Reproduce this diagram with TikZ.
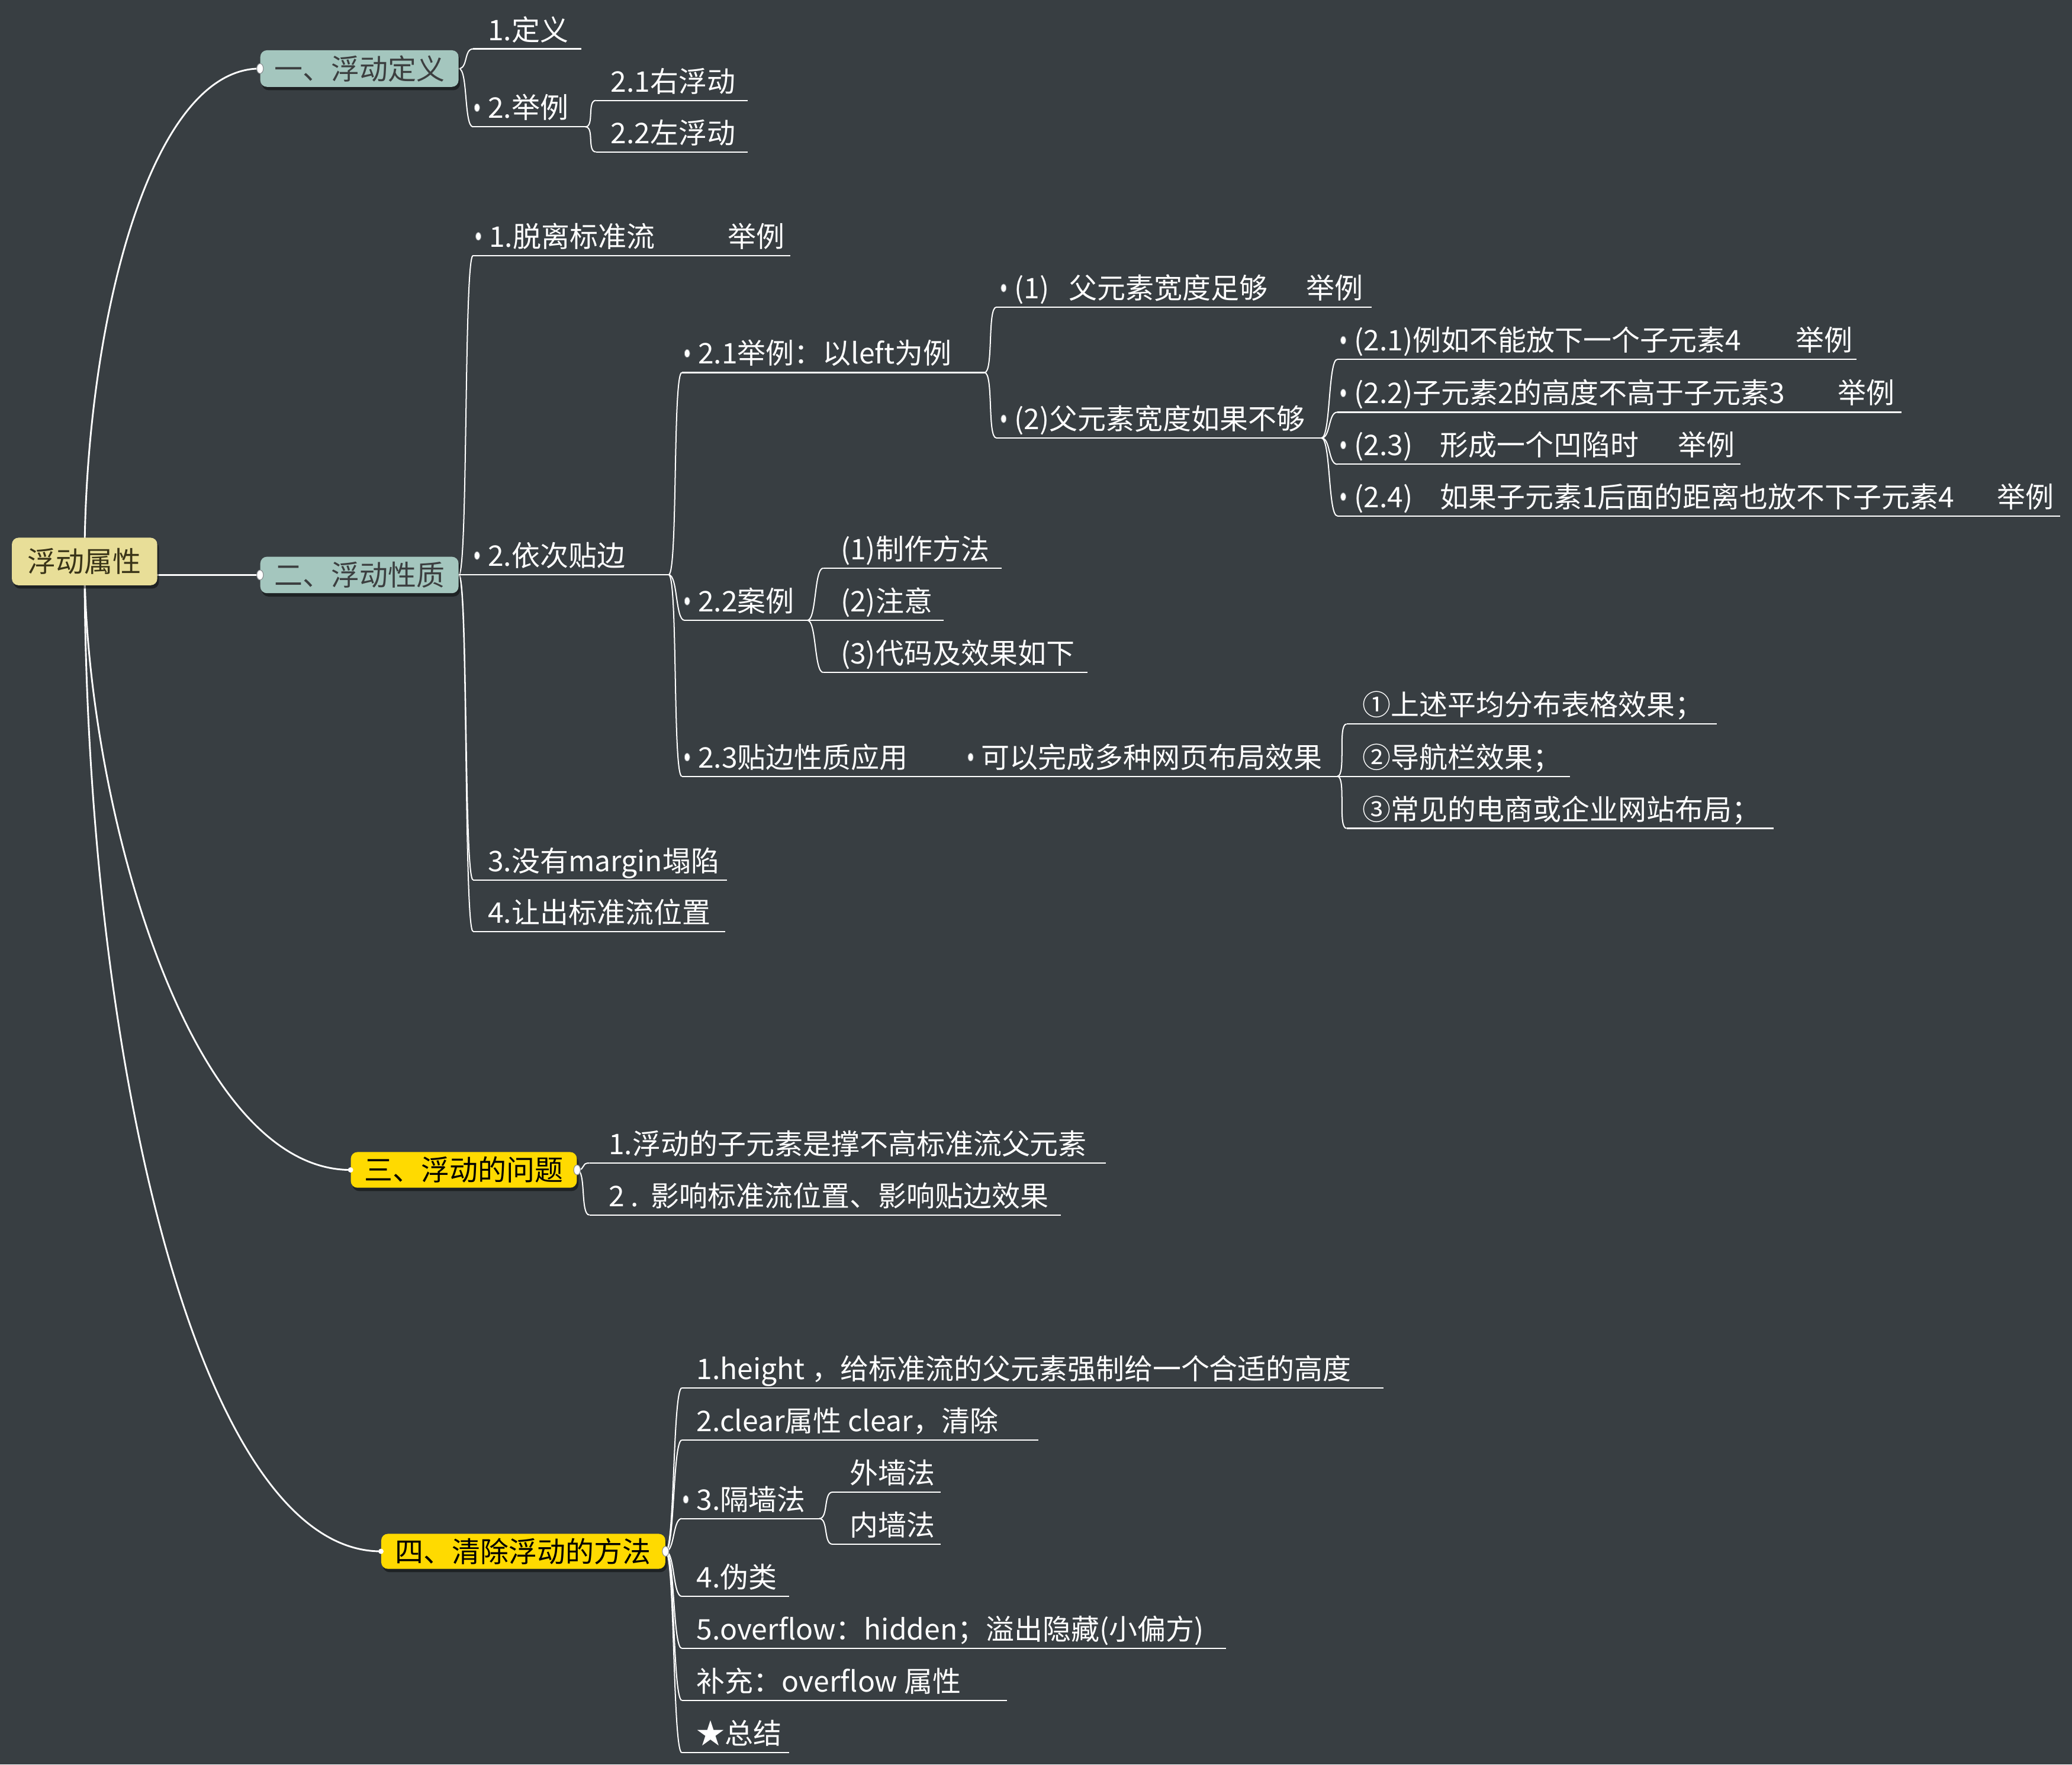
\documentclass[tikz,border=0pt]{standalone}
\usepackage{fontspec}
\setmainfont{Noto Sans CJK SC}
\usetikzlibrary{shapes.geometric,shadows}
\definecolor{bgc}{HTML}{383E42}
\definecolor{rootc}{HTML}{E8DE98}
\definecolor{roott}{HTML}{3A3418}
\definecolor{tealc}{HTML}{A4C6BE}
\definecolor{tealt}{HTML}{3C3F40}
\definecolor{yelc}{HTML}{FFDA00}
\definecolor{knobc}{HTML}{8A8F92}
\pgfdeclarelayer{back}
\pgfdeclarelayer{lines}
\pgfsetlayers{back,lines,main}
\newcommand\mmTopic[6]{%
  \coordinate (#1s) at (#2,#4);
  \coordinate (#1e) at (#3,#4);
  \node[tpt] (#1) at (#5,#4-6.5) {#6};
  \draw[ulin] (#1s) -- (#1e);}
\newcommand\mmTopicD[6]{%
  \mmTopic{#1}{#2}{#3}{#4}{#5}{#6}%
  \node[knob] (#1k) at (#5-8,#4-14.5) {};}
\newcommand\mmBr[2]{\draw[conn] (#1) .. controls +(7,0) and +(-7,0) .. (#2);}
\begin{document}
\begin{tikzpicture}[x=1pt,y=-1pt,
  tpt/.style={anchor=base west,inner sep=0pt,text=white,font=\fontsize{21.5}{24}\selectfont},
  boxn/.style={rounded corners=5pt,inner sep=0pt,font=\fontsize{21.5}{24}\selectfont,
    drop shadow={shadow xshift=1.2pt,shadow yshift=-2.5pt,opacity=0.45,fill=black}},
  ulin/.style={draw=white,line width=1pt},
  conn/.style={draw=white,line width=0.9pt},
  rootln/.style={draw=white,line width=1.3pt},
  knob/.style={ellipse,fill=white,draw=knobc,line width=0.4pt,minimum width=4pt,minimum height=6pt,inner sep=0pt},
  bknob/.style={ellipse,fill=white,draw=knobc,line width=0.5pt,minimum width=5pt,minimum height=7.5pt,inner sep=0pt},
  sdot/.style={circle,fill=white,minimum size=4pt,inner sep=0pt}]
\begin{pgfonlayer}{back}
\fill[bgc] (0,0) rectangle (1568,1335.5);
\end{pgfonlayer}
\useasboundingbox (0,0) rectangle (1568,1335.5);

% main boxes
\node[boxn,fill=rootc,text=roott,minimum width=110pt,minimum height=36pt] (root) at (64,425) {浮动属性};
\node[boxn,fill=tealc,text=tealt,minimum width=150pt,minimum height=27.7pt] (b1) at (272,51.9) {一、浮动定义};
\node[boxn,fill=tealc,text=tealt,minimum width=150pt,minimum height=27.6pt] (b2) at (272,435.2) {二、浮动性质};
\node[boxn,fill=yelc,text=black,minimum width=171pt,minimum height=27pt] (b3) at (351,885.5) {三、浮动的问题};
\node[boxn,fill=yelc,text=black,minimum width=215pt,minimum height=26.5pt] (b4) at (396,1174.2) {四、清除浮动的方法};
\node[bknob] (b1k) at (b1.west) {};
\node[bknob] (b2k) at (b2.west) {};
\node[sdot] (b3l) at (b3.west) {};
\node[bknob] (b3r) at (b3.east) {};
\node[sdot] (b4l) at (b4.west) {};
\node[bknob] (b4r) at (b4.east) {};

% branch one
\mmTopic{d1}{358}{440}{37}{369}{1.定义}
\mmTopicD{d2}{358}{443}{96}{369}{2.举例}
\mmTopic{d21}{451}{566}{76}{462}{2.1右浮动}
\mmTopic{d22}{451}{566}{115}{462}{2.2左浮动}

% branch two
\mmTopicD{e1}{358}{598}{193.4}{370}{\makebox[180.5pt][l]{1.脱离标准流}举例}
\mmTopicD{e2}{347}{506}{435}{369}{2.依次贴边}
\mmTopic{e3}{358}{550}{666}{369}{3.没有margin塌陷}
\mmTopic{e4}{358}{549}{705}{369}{4.让出标准流位置}
\mmTopicD{f1}{516}{745}{282}{528}{2.1举例：以left为例}
\mmTopicD{f2}{518}{611}{469.5}{528}{2.2案例}
\mmTopicD{f3}{516}{718}{587.6}{528}{2.3贴边性质应用}
\mmTopicD{g}{718}{1012}{587.6}{742.5}{可以完成多种网页布局效果}
\mmTopic{h1}{1019}{1299}{548}{1031}{①上述平均分布表格效果；}
\mmTopic{h2}{1012}{1188}{587.6}{1031}{②导航栏效果；}
\mmTopic{h3}{1019}{1342}{627}{1031}{③常见的电商或企业网站布局；}
\mmTopicD{i1}{754}{1038}{232.5}{767.5}{\makebox[41pt][l]{(1)}\makebox[180pt][l]{父元素宽度足够}举例}
\mmTopicD{i2}{754}{1000}{331.5}{767.5}{(2)父元素宽度如果不够}
\mmTopicD{j1}{1012}{1405}{272}{1024.5}{\makebox[334.5pt][l]{(2.1)例如不能放下一个子元素4}举例}
\mmTopicD{j2}{1012}{1439}{312}{1024.5}{\makebox[366pt][l]{(2.2)子元素2的高度不高于子元素3}举例}
\mmTopicD{j3}{1012}{1317}{351.4}{1024.5}{\makebox[65pt][l]{(2.3)}\makebox[180pt][l]{形成一个凹陷时}举例}
\mmTopicD{j4}{1012}{1559}{390.5}{1024.5}{\makebox[65pt][l]{(2.4)}\makebox[421.7pt][l]{如果子元素1后面的距离也放不下子元素4}举例}
\mmTopic{k1}{623}{758}{430}{636}{(1)制作方法}
\mmTopic{k2}{611}{714}{469.5}{636}{(2)注意}
\mmTopic{k3}{623}{823}{509}{636}{(3)代码及效果如下}

% branch three
\mmTopic{l1}{446}{837}{880.3}{460.4}{1.浮动的子元素是撑不高标准流父元素}
\mmTopic{l2}{446}{803}{919.6}{460.4}{\makebox[32pt][l]{2 .}影响标准流位置、影响贴边效果}

% branch four
\mmTopic{m1}{516}{1047}{1050.5}{527}{1.height\hspace{5pt}，给标准流的父元素强制给一个合适的高度}
\mmTopic{m2}{516}{786}{1090}{527}{2.clear属性 clear，清除}
\mmTopicD{m3}{516}{620}{1149.4}{527}{3.隔墙法}
\mmTopic{q1}{630}{712}{1129.4}{643}{外墙法}
\mmTopic{q2}{630}{712}{1168.8}{643}{内墙法}
\mmTopic{m4}{516}{597}{1208.3}{527}{4.伪类}
\mmTopic{m5}{516}{928}{1247.7}{527}{5.overflow：hidden；溢出隐藏(小偏方)}
\mmTopic{m6}{516}{762}{1287}{527}{补充：overflow 属性}
\mmTopic{m7}{516}{597}{1326.6}{527}{★总结}

\begin{pgfonlayer}{lines}
% root curves
\draw[rootln] (root.center) .. controls (64,250) and (112,52) .. (b1.west);
\draw[rootln] (root.center |- b2.west) -- (b2.west);
\draw[rootln] (root.center) .. controls (64,600) and (140,885.5) .. (b3.west);
\draw[rootln] (root.center) .. controls (64,800) and (150,1174.2) .. (b4.west);
% branch connectors
\mmBr{b1.east}{d1s}
\mmBr{b1.east}{d2s}
\mmBr{d2e}{d21s}
\mmBr{d2e}{d22s}
\mmBr{b2.east}{e1s}
\draw[conn] (b2.east) -- (e2s);
\mmBr{b2.east}{e3s}
\mmBr{b2.east}{e4s}
\mmBr{e2e}{f1s}
\mmBr{e2e}{f2s}
\mmBr{e2e}{f3s}
\draw[conn] (f3e) -- (gs);
\mmBr{ge}{h1s}
\draw[conn] (ge) -- (h2s);
\mmBr{ge}{h3s}
\mmBr{f1e}{i1s}
\mmBr{f1e}{i2s}
\mmBr{i2e}{j1s}
\mmBr{i2e}{j2s}
\mmBr{i2e}{j3s}
\mmBr{i2e}{j4s}
\mmBr{f2e}{k1s}
\draw[conn] (f2e) -- (k2s);
\mmBr{f2e}{k3s}
\mmBr{b3.east}{l1s}
\mmBr{b3.east}{l2s}
\mmBr{b4.east}{m1s}
\mmBr{b4.east}{m2s}
\mmBr{b4.east}{m3s}
\mmBr{b4.east}{m4s}
\mmBr{b4.east}{m5s}
\mmBr{b4.east}{m6s}
\mmBr{b4.east}{m7s}
\mmBr{m3e}{q1s}
\mmBr{m3e}{q2s}
\end{pgfonlayer}
\end{tikzpicture}
\end{document}
